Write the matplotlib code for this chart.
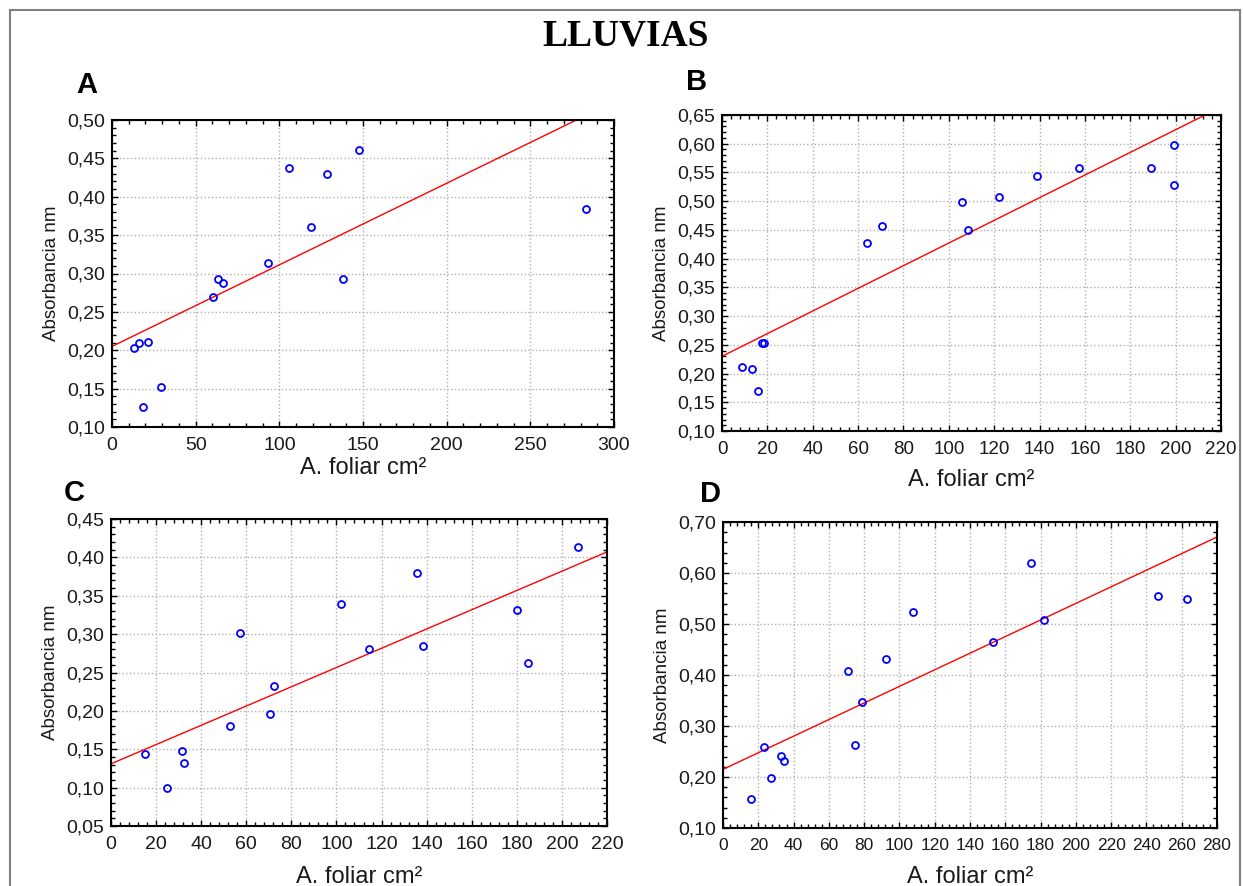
import matplotlib
matplotlib.use('Agg')
import matplotlib.pyplot as plt
import numpy as np
from matplotlib.ticker import MultipleLocator, AutoMinorLocator, FuncFormatter
from matplotlib.patches import Rectangle

plt.rcParams['font.family'] = ['Liberation Sans', 'DejaVu Sans']

# datos (area foliar cm2, absorbancia nm)
xa = [13.1, 16.1, 21.4, 29.4, 18.7, 60.6, 63.5, 66.2, 93.2, 105.6, 119.0, 128.5, 138.0, 147.7, 283.2]
ya = [0.203, 0.209, 0.211, 0.152, 0.126, 0.270, 0.293, 0.287, 0.314, 0.437, 0.360, 0.430, 0.293, 0.461, 0.384]

xb = [8.9, 13.3, 15.8, 17.5, 18.5, 63.8, 70.6, 105.9, 108.5, 122.2, 139.0, 157.2, 189.0, 199.1, 199.1]
yb = [0.211, 0.208, 0.169, 0.253, 0.253, 0.427, 0.457, 0.498, 0.449, 0.508, 0.544, 0.558, 0.558, 0.597, 0.529]

xc = [15.0, 24.8, 31.4, 32.3, 52.7, 57.1, 70.5, 72.3, 101.8, 114.4, 135.6, 138.5, 180.3, 185.0, 207.1]
yc = [0.144, 0.100, 0.148, 0.132, 0.180, 0.301, 0.196, 0.232, 0.339, 0.280, 0.380, 0.284, 0.332, 0.262, 0.413]

xd = [15.8, 23.0, 27.1, 33.0, 34.8, 71.1, 75.0, 78.6, 92.6, 107.9, 153.1, 174.8, 182.2, 246.6, 263.1]
yd = [0.156, 0.259, 0.198, 0.241, 0.231, 0.408, 0.263, 0.347, 0.431, 0.523, 0.465, 0.619, 0.507, 0.554, 0.550]

# recta de regresion (intercepto, pendiente)
fit_a = (0.205, 0.001063)
fit_b = (0.230, 0.001972)
fit_c = (0.131, 0.001255)
fit_d = (0.215, 0.001627)

paneles = [
    ('A', xa, ya, fit_a, (0, 300, 50), (0.10, 0.50, 0.05)),
    ('B', xb, yb, fit_b, (0, 220, 20), (0.10, 0.65, 0.05)),
    ('C', xc, yc, fit_c, (0, 220, 20), (0.05, 0.45, 0.05)),
    ('D', xd, yd, fit_d, (0, 280, 20), (0.10, 0.70, 0.10)),
]

W, H = 1243, 886
fig = plt.figure(figsize=(W / 100, H / 100), dpi=100)

# posiciones en pixeles: izquierda, derecha, arriba, abajo
cajas = {
    'A': (112, 614, 120, 427),
    'B': (722, 1221, 115, 431),
    'C': (111, 607, 519, 826),
    'D': (723, 1217, 522, 828),
}
letras = {'A': (87, 85), 'B': (697, 82), 'C': (74, 493), 'D': (711, 494)}
xlab_y = {'A': 468, 'B': 480, 'C': 877, 'D': 877}
xtick_size = {'A': 14, 'B': 13.5, 'C': 14, 'D': 12.5}

fmt = FuncFormatter(lambda v, p: f'{v:.2f}'.replace('.', ','))

for nombre, x, y, fit, xl, yl in paneles:
    l, r, t, b = cajas[nombre]
    ax = fig.add_axes([l / W, 1 - b / H, (r - l) / W, (b - t) / H])
    xs = np.array([xl[0], xl[1]])
    ax.plot(xs, fit[0] + fit[1] * xs, color='red', lw=1.0, zorder=2)
    ax.plot(x, y, 'o', mfc='none', mec='blue', ms=5, mew=1.3, zorder=3)
    ax.set_xlim(xl[0], xl[1])
    ax.set_ylim(yl[0], yl[1])
    ax.xaxis.set_major_locator(MultipleLocator(xl[2]))
    ax.yaxis.set_major_locator(MultipleLocator(yl[2]))
    ax.xaxis.set_minor_locator(AutoMinorLocator(5))
    ax.yaxis.set_minor_locator(AutoMinorLocator(5))
    ax.yaxis.set_major_formatter(fmt)
    ax.grid(True, which='major', linestyle=':', color='#b0b0b0', lw=1.0)
    ax.tick_params(which='both', direction='in', top=True, right=True,
                   labelsize=14, labelcolor='#1a1a1a', width=1, pad=5)
    ax.tick_params(axis='x', labelsize=xtick_size[nombre], pad=7)
    ax.tick_params(which='major', length=4)
    ax.tick_params(which='minor', length=3)
    for s in ax.spines.values():
        s.set_linewidth(1.5)
    ax.set_ylabel('Absorbancia nm', fontsize=13.5, color='#1a1a1a', labelpad=5)
    fig.text((l + r) / 2 / W, 1 - xlab_y[nombre] / H, 'A. foliar cm²',
             fontsize=17, color='#1a1a1a', ha='center', va='center')
    lx, ly = letras[nombre]
    fig.text(lx / W, 1 - ly / H, nombre, fontsize=21, fontweight='bold',
             ha='center', va='center')

fig.text(0.5035, 1 - 36 / H, 'LLUVIAS', fontsize=27, fontweight='bold',
         family='Liberation Serif', ha='center', va='center')

# marco exterior
fig.add_artist(Rectangle((10 / W, -0.01), 1230 / W, 1 - 10 / H + 0.01,
                         transform=fig.transFigure, fill=False,
                         edgecolor='#808080', lw=1.5))

fig.savefig('out.png', dpi=100)
